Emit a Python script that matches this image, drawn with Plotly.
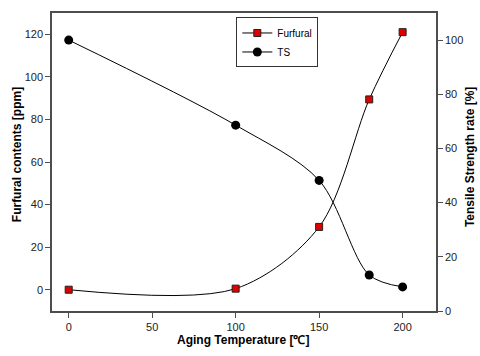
import plotly.graph_objects as go

temperature = [0, 100, 150, 180, 200]
furfural_ppm = [0, 0.5, 29.5, 89.4, 121]
ts_rate = [100, 68.6, 48.2, 13.3, 8.9]

x_ticks = [0, 50, 100, 150, 200]
left_ticks = [0, 20, 40, 60, 80, 100, 120]
right_ticks = [0, 20, 40, 60, 80, 100]

x_title = "<b>Aging Temperature [℃]</b>"
left_title = "<b>Furfural contents [ppm]</b>"
right_title = "<b>Tensile Strength rate [%]</b>"

FONT = "Liberation Sans, Arial, sans-serif"
AX = "#4d4d4d"

fig = go.Figure()
fig.add_trace(go.Scatter(
    x=temperature, y=furfural_ppm, name="Furfural", mode="lines+markers",
    line=dict(color="black", width=1, shape="spline", smoothing=0.9),
    marker=dict(symbol="square", size=7, color="#e00000", line=dict(color="#202020", width=1)),
    yaxis="y"))
fig.add_trace(go.Scatter(
    x=temperature, y=ts_rate, name="TS", mode="lines+markers",
    line=dict(color="black", width=1, shape="spline", smoothing=0.9),
    marker=dict(symbol="circle", size=9, color="black"),
    yaxis="y2"))

axis_common = dict(showgrid=False, zeroline=False, showline=True, linecolor=AX, linewidth=1.5,
                   ticks="outside", ticklen=5, tickcolor=AX, tickwidth=1, automargin=False,
                   tickfont=dict(family=FONT, size=11, color="#222"))

fig.update_layout(
    width=480, height=356,
    margin=dict(l=52, r=44, t=13, b=45),
    paper_bgcolor="white", plot_bgcolor="white",
    font=dict(family=FONT, size=11, color="black"),
    xaxis=dict(range=[-10, 220], tickvals=x_ticks, mirror=True, **axis_common),
    yaxis=dict(range=[-10, 130], tickvals=left_ticks, **axis_common),
    yaxis2=dict(range=[0, 110], tickvals=right_ticks, overlaying="y", side="right", **axis_common),
    legend=dict(x=0.48, y=0.985, xanchor="left", yanchor="top",
                bordercolor="#333", borderwidth=1, bgcolor="white",
                font=dict(family=FONT, size=10), tracegroupgap=0, itemwidth=30),
    showlegend=True,
    annotations=[
        dict(text=x_title, xref="paper", yref="paper", x=0.497, y=-0.097, showarrow=False,
             xanchor="center", yanchor="middle", font=dict(family=FONT, size=12)),
        dict(text=left_title, xref="paper", yref="paper", x=-0.091, y=0.523, showarrow=False,
             textangle=-90, xanchor="center", yanchor="middle", font=dict(family=FONT, size=12)),
        dict(text=right_title, xref="paper", yref="paper", x=1.089, y=0.517, showarrow=False,
             textangle=-90, xanchor="center", yanchor="middle", font=dict(family=FONT, size=12)),
    ],
)

fig.write_html("out.html", config={"displayModeBar": False},
               post_script="document.body.style.margin='0px';")
